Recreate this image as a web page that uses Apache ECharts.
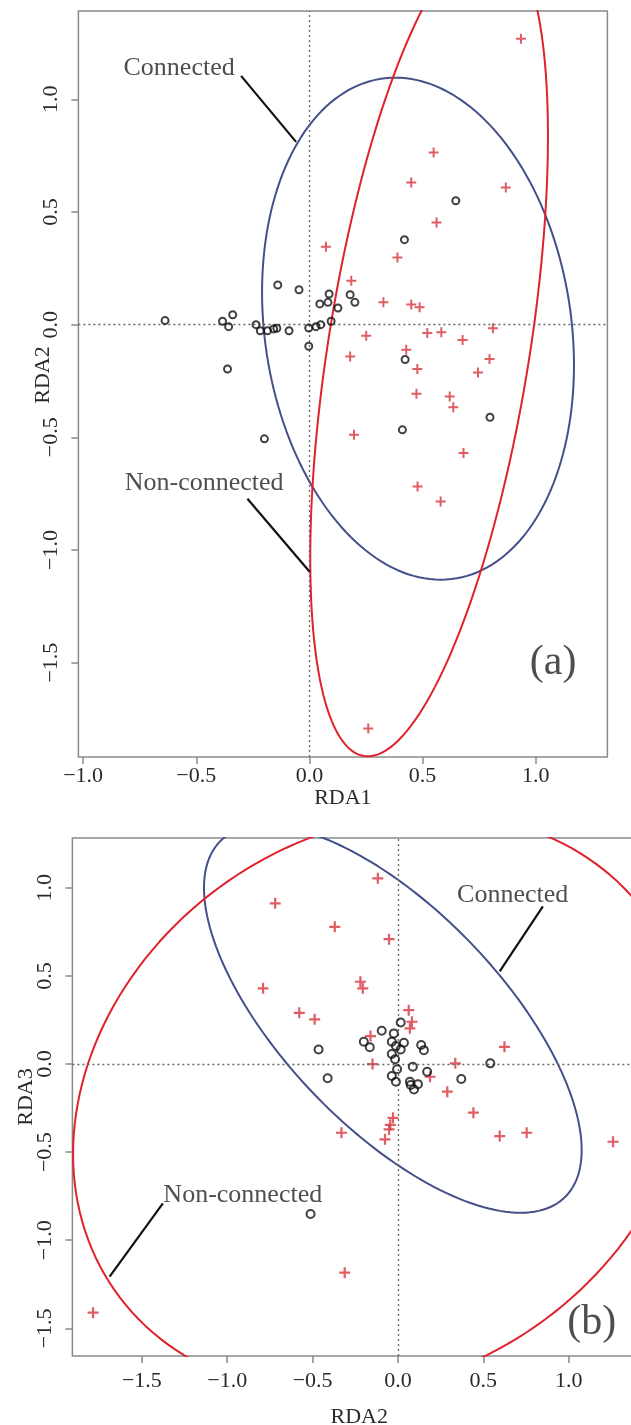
<!DOCTYPE html>
<html>
<head>
<meta charset="utf-8">
<script src="https://cdn.jsdelivr.net/npm/echarts@6/dist/echarts.min.js"></script>
<style>
html,body{margin:0;padding:0;background:#fff;}
#chart{width:631px;height:1425px;}
</style>
</head>
<body>
<div id="chart"></div>
<script>
// ---------- tick labels ----------
const aXTicks = [-1.0, -0.5, 0.0, 0.5, 1.0];
const aYTicks = [-1.5, -1.0, -0.5, 0.0, 0.5, 1.0];
const bXTicks = [-1.5, -1.0, -0.5, 0.0, 0.5, 1.0];
const bYTicks = [-1.5, -1.0, -0.5, 0.0, 0.5, 1.0];

// ---------- panel (a): RDA1 vs RDA2 ----------
const aConnected = [
  [-0.638,0.018],[-0.384,0.015],[-0.339,0.044],[-0.357,-0.009],[-0.362,-0.197],
  [-0.236,0.000],[-0.217,-0.027],[-0.185,-0.027],[-0.158,-0.019],[-0.144,-0.016],
  [-0.090,-0.027],[-0.140,0.176],[-0.046,0.155],[-0.003,-0.015],[-0.003,-0.096],
  [0.029,-0.009],[0.050,0.000],[0.046,0.092],[0.087,0.136],[0.082,0.099],
  [0.126,0.074],[0.096,0.015],[0.180,0.133],[0.201,0.099],[0.420,0.377],
  [0.647,0.550],[0.423,-0.155],[0.798,-0.411],[0.411,-0.467],[-0.199,-0.507]
];
const aNonConnected = [
  [0.935,1.269],[0.549,0.764],[0.450,0.631],[0.868,0.609],[0.562,0.453],
  [0.073,0.346],[0.389,0.298],[0.185,0.195],[0.327,0.099],[0.450,0.089],
  [0.487,0.077],[0.251,-0.049],[0.521,-0.037],[0.583,-0.034],[0.811,-0.016],
  [0.677,-0.068],[0.180,-0.141],[0.428,-0.111],[0.796,-0.152],[0.477,-0.197],
  [0.745,-0.212],[0.473,-0.307],[0.620,-0.319],[0.636,-0.367],[0.197,-0.489],
  [0.681,-0.570],[0.478,-0.718],[0.580,-0.785],[0.260,-1.792]
];
// ellipse: [centerX, centerY, axisX, axisY, horizontalHalfWidth]
const aConnectedEllipse = [0.48, -0.018, -0.10, 1.114, 0.682];
const aNonConnectedEllipse = [0.529, -0.10, 0.271, 1.816, 0.45];
const aLabels = [
  {name:'Connected', at:[-0.576,1.139], from:[-0.302,1.104], to:[-0.059,0.811]},
  {name:'Non-connected', at:[-0.465,-0.705], from:[-0.274,-0.773], to:[0.002,-1.098]}
];
const aTag = {name:'(a)', at:[1.077,-1.503]};

// ---------- panel (b): RDA2 vs RDA3 ----------
const bConnected = [
  [0.016,0.236],[-0.095,0.189],[-0.024,0.174],[-0.200,0.127],[-0.165,0.095],
  [-0.036,0.127],[0.035,0.121],[0.016,0.083],[-0.012,0.102],[0.136,0.108],
  [0.152,0.079],[-0.465,0.083],[-0.036,0.057],[-0.017,0.027],[0.541,0.004],
  [0.087,-0.015],[-0.005,-0.030],[0.171,-0.044],[-0.412,-0.081],[-0.036,-0.068],
  [-0.012,-0.100],[0.371,-0.085],[0.070,-0.100],[0.117,-0.114],[0.094,-0.144],
  [0.075,-0.119],[-0.512,-0.851]
];
const bNonConnected = [
  [-0.118,1.054],[-0.719,0.912],[-0.370,0.779],[-0.052,0.709],[-0.790,0.430],
  [-0.220,0.467],[-0.206,0.430],[-0.578,0.291],[-0.488,0.254],[0.063,0.306],
  [0.082,0.240],[0.070,0.203],[-0.161,0.159],[0.624,0.098],[-0.149,0.000],
  [0.336,0.004],[0.188,-0.072],[0.289,-0.157],[0.442,-0.276],[-0.029,-0.305],
  [-0.045,-0.345],[-0.052,-0.371],[-0.076,-0.427],[-0.331,-0.390],[0.596,-0.409],
  [0.754,-0.390],[1.260,-0.441],[-0.312,-1.184],[-1.786,-1.411]
];
const bConnectedEllipse = [-0.03, 0.256, -0.748, 1.10, 0.815];
const bNonConnectedEllipse = [-0.096, -0.226, 0.312, 1.645, 1.78];
const bLabels = [
  {name:'Connected', at:[0.672,0.959], from:[0.849,0.895], to:[0.596,0.526]},
  {name:'Non-connected', at:[-0.909,-0.743], from:[-1.377,-0.791], to:[-1.689,-1.207]}
];
const bTag = {name:'(b)', at:[1.135,-1.47]};

// ---------- styling ----------
const FONT = '"Liberation Serif", "DejaVu Serif", serif';
const BLUE = '#45508a';
const RED = '#e0222c';
const CROSS = '#d8343c';
const BOX = '#8a8a8a';
const PLUS = 'path://M4,0H6V4H10V6H6V10H4V6H0V4H4Z';

function ellipsePts(p){
  const [cx,cy,ux,uy,h] = p;
  const pts = [];
  for(let i=0;i<=360;i+=2){
    const t = i*Math.PI/180;
    pts.push([cx+ux*Math.cos(t)+h*Math.sin(t), cy+uy*Math.cos(t)]);
  }
  return pts;
}
function fmt(v){ return (v<0?'\u2212':'') + Math.abs(v).toFixed(1); }

function xAxisCfg(idx, min, max, ticks, name, labelMargin, nameGap){
  return {
    type:'value', gridIndex:idx, min:min, max:max, name:name,
    nameLocation:'middle', nameGap:nameGap, nameMoveOverlap:false,
    nameTextStyle:{fontFamily:FONT, fontSize:22, color:'#2a2a2a'},
    axisLine:{show:false, onZero:false}, splitLine:{show:false},
    axisTick:{show:true, length:7, customValues:ticks, lineStyle:{color:BOX, width:1.5}},
    axisLabel:{customValues:ticks, formatter:fmt, margin:labelMargin,
      fontFamily:FONT, fontSize:22, color:'#2a2a2a'}
  };
}
function yAxisCfg(idx, min, max, ticks, name, labelMargin, nameGap, namePad){
  return {
    type:'value', gridIndex:idx, min:min, max:max, name:name,
    nameLocation:'middle', nameGap:nameGap, nameRotate:90, nameMoveOverlap:false,
    nameTextStyle:{fontFamily:FONT, fontSize:22, color:'#2a2a2a', padding:namePad},
    axisLine:{show:false, onZero:false}, splitLine:{show:false},
    axisTick:{show:true, length:7, customValues:ticks, lineStyle:{color:BOX, width:1.5}},
    axisLabel:{customValues:ticks, formatter:fmt, margin:labelMargin, rotate:90,
      fontFamily:FONT, fontSize:22, color:'#2a2a2a'}
  };
}

function panelSeries(idx, conn, nonConn, connE, nonE, labels, tag, sizes){
  const s = [];
  s.push({
    type:'line', xAxisIndex:idx, yAxisIndex:idx, data:[], silent:true,
    markLine:{silent:true, symbol:'none', label:{show:false},
      lineStyle:{color:'#666', type:[2,3], width:1.3},
      data:[{xAxis:0},{yAxis:0}]}
  });
  s.push({type:'line', xAxisIndex:idx, yAxisIndex:idx, data:ellipsePts(connE),
    showSymbol:false, clip:true, lineStyle:{color:BLUE, width:2}, z:3});
  s.push({type:'line', xAxisIndex:idx, yAxisIndex:idx, data:ellipsePts(nonE),
    showSymbol:false, clip:true, lineStyle:{color:RED, width:2}, z:3});
  s.push({type:'scatter', xAxisIndex:idx, yAxisIndex:idx, data:nonConn,
    symbol:PLUS, symbolSize:sizes[0], itemStyle:{color:CROSS}, z:4});
  s.push({type:'scatter', xAxisIndex:idx, yAxisIndex:idx, data:conn,
    symbol:'circle', symbolSize:sizes[1],
    itemStyle:{color:'rgba(255,255,255,0)', borderColor:'#111', borderWidth:2}, z:5});
  labels.forEach(l=>{
    s.push({type:'line', xAxisIndex:idx, yAxisIndex:idx, data:[l.from,l.to],
      showSymbol:false, lineStyle:{color:'#111', width:2.2}, z:6});
  });
  s.push({type:'scatter', xAxisIndex:idx, yAxisIndex:idx, symbolSize:0, z:7,
    data:labels.map(l=>({name:l.name, value:l.at})),
    label:{show:true, position:'inside', formatter:'{b}', fontFamily:FONT, fontSize:26, color:'#222'}});
  s.push({type:'scatter', xAxisIndex:idx, yAxisIndex:idx, symbolSize:0, z:7,
    data:[{name:tag.name, value:tag.at}],
    label:{show:true, position:'inside', formatter:'{b}', fontFamily:FONT, fontSize:42, color:'#222'}});
  return s;
}

const chart = echarts.init(document.getElementById('chart'), null, {renderer:'canvas'});
chart.setOption({
  animation:false,
  backgroundColor:'#fff',
  grid:[
    {left:78.4, top:11, width:529, height:746, show:true, borderColor:BOX, borderWidth:1.5,
      backgroundColor:'#fff', outerBoundsMode:'none', containLabel:false},
    {left:72.4, top:838, width:573.6, height:518, show:true, borderColor:BOX, borderWidth:1.5,
      backgroundColor:'#fff', outerBoundsMode:'none', containLabel:false}
  ],
  xAxis:[
    xAxisCfg(0, -1.021, 1.317, aXTicks, 'RDA1', 8, 30),
    xAxisCfg(1, -1.907, 1.453, bXTicks, 'RDA2', 14, 50)
  ],
  yAxis:[
    yAxisCfg(0, -1.919, 1.392, aYTicks, 'RDA2', 16, 24, [0,0,0,18]),
    yAxisCfg(1, -1.657, 1.283, bYTicks, 'RDA3', 16, 35, 0)
  ],
  series:[].concat(
    panelSeries(0, aConnected, aNonConnected, aConnectedEllipse, aNonConnectedEllipse, aLabels, aTag, [10,7]),
    panelSeries(1, bConnected, bNonConnected, bConnectedEllipse, bNonConnectedEllipse, bLabels, bTag, [11,8])
  )
});
</script>
</body>
</html>
